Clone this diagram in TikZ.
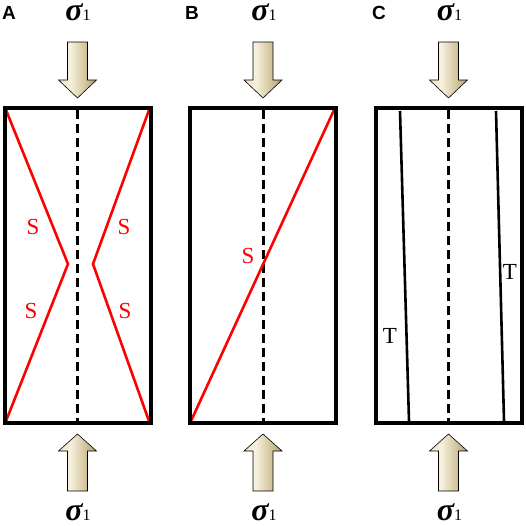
\documentclass[tikz,border=0pt]{standalone}
\usepackage{fontspec}
\setmainfont{Liberation Serif}
\newfontfamily\lsans{Liberation Sans}
\definecolor{tanA}{HTML}{A89468}
\definecolor{tanB}{HTML}{E6DBB6}
\definecolor{tanC}{HTML}{F7F1DE}
\definecolor{tanD}{HTML}{D6C9A2}
\definecolor{tanE}{HTML}{A6956C}
\definecolor{tanF}{HTML}{857552}
\pgfdeclarehorizontalshading{arrowsh}{100bp}{color(0bp)=(tanA); color(18bp)=(tanB); color(40bp)=(tanC); color(58bp)=(tanD); color(78bp)=(tanE); color(100bp)=(tanF)}
\tikzset{
  box/.style={line width=4pt, draw=black},
  axisline/.style={line width=3pt, dash pattern=on 9pt off 5pt},
  shear/.style={line width=2.6pt, draw=red},
  tens/.style={line width=2.6pt, draw=black},
  lbl/.style={inner sep=0pt, font=\fontsize{23}{23}\selectfont},
  panel/.style={inner sep=0pt, anchor=base west, font=\lsans\bfseries\fontsize{19}{19}\selectfont},
  sig/.style={inner sep=0pt, anchor=base},
  arr/.style={draw=black, line width=0.6pt, shading=arrowsh}
}
\newcommand{\sigone}{{\fontsize{32}{32}\selectfont\bfseries\itshape σ}{\fontsize{16}{16}\selectfont 1}}
\newcommand{\downarr}[1]{\path[arr] (#1-10,42) -- (#1+10,42) -- (#1+10,80) -- (#1+19,80) -- (#1,98) -- (#1-19,80) -- (#1-10,80) -- cycle;}
\newcommand{\uparr}[1]{\path[arr] (#1-10,491) -- (#1+10,491) -- (#1+10,451) -- (#1+19,451) -- (#1,434) -- (#1-19,451) -- (#1-10,451) -- cycle;}
\begin{document}
\begin{tikzpicture}[x=1pt,y=-1pt]
\useasboundingbox (0,0) rectangle (526,525);
% panel labels
\node[panel] (pA) at (2,19) {A};
\node[panel] (pB) at (185,19) {B};
\node[panel] (pC) at (372,19) {C};
% sigma labels
\node[sig] (sAt) at (78,20) {\sigone};
\node[sig] (sBt) at (264,20) {\sigone};
\node[sig] (sCt) at (449.5,20) {\sigone};
\node[sig] (sAb) at (78,520) {\sigone};
\node[sig] (sBb) at (264,520) {\sigone};
\node[sig] (sCb) at (449.5,520) {\sigone};
% arrows
\downarr{77.5}\downarr{263}\downarr{448.5}
\uparr{77.5}\uparr{263}\uparr{448.5}
% panel A
\draw[axisline] (77.5,110) -- (77.5,421);
\draw[shear, line join=miter] (6,110) -- (68,264) -- (6,421);
\draw[shear, line join=miter] (149,110) -- (93,264) -- (149,421);
\draw[box] (4.5,108) rectangle (150.5,423);
\node[lbl, text=red] (SA1) at (33,227) {S};
\node[lbl, text=red] (SA2) at (31,311) {S};
\node[lbl, text=red] (SA3) at (124,227) {S};
\node[lbl, text=red] (SA4) at (125,311) {S};
% panel B
\draw[axisline] (263,110) -- (263,421);
\draw[shear] (191,421) -- (334,110);
\draw[box] (190,108) rectangle (336,423);
\node[lbl, text=red] (SB) at (248,256) {S};
% panel C
\draw[axisline] (448.5,110) -- (448.5,421);
\draw[tens] (400,111) -- (409,421);
\draw[tens] (496,111) -- (504,421);
\draw[box] (375.5,108) rectangle (521.5,423);
\node[lbl] (TC1) at (390,336) {T};
\node[lbl] (TC2) at (510,272) {T};
\end{tikzpicture}
\end{document}
